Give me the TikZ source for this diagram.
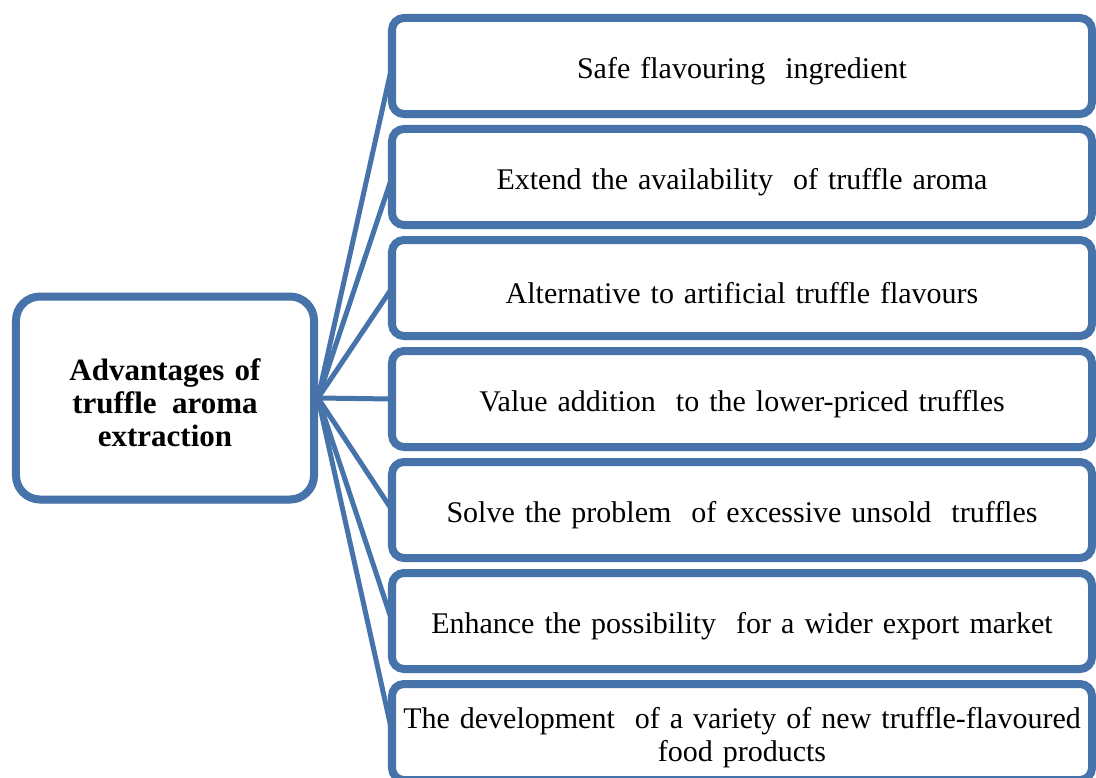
\documentclass[tikz,border=0pt]{standalone}
\usepackage{fontspec}
\setmainfont{Liberation Serif}
\usetikzlibrary{shadows}
\definecolor{boxblue}{HTML}{4673AA}
\newcommand{\dropline}{\rule{0pt}{32bp}}
\tikzset{
    boxshadow/.style={drop shadow={shadow xshift=1bp, shadow yshift=-4bp, opacity=0.25, fill=black!60}},
    topicbox/.style={draw=boxblue, line width=8bp, rounded corners=24bp, fill=white, boxshadow,
        minimum width=298bp, minimum height=203bp, text width=290bp, inner sep=2bp, align=center,
        font=\fontsize{31bp}{33bp}\selectfont\bfseries},
    benefit/.style={draw=boxblue, line width=8bp, rounded corners=12bp, fill=white, boxshadow,
        minimum width=700bp, minimum height=96bp, text width=692bp, inner sep=2bp, align=center,
        font=\fontsize{30bp}{33bp}\selectfont},
    spoke/.style={draw=boxblue, line width=5bp}
}
\begin{document}
\begin{tikzpicture}[x=1bp, y=-1bp]
        \useasboundingbox (0,0) rectangle (1096,778);
        % Central topic
        \node[topicbox] (adv) at (165,398) {\dropline Advantages of\\ truffle\, aroma\\ extraction};
        % Spokes to each advantage
        \foreach \i in {1,...,7} {
            \coordinate (tip\i) at (392,{66+111*(\i-1)});
            \draw[spoke] (adv.east) -- (tip\i);
        }
        % Advantage boxes
        \foreach \i/\label in {1/Safe flavouring\ \ ingredient,
                               2/Extend the availability\ \ of truffle aroma,
                               3/Alternative to artificial truffle flavours,
                               4/Value addition\ \ to the lower-priced truffles,
                               5/Solve the problem\ \ of excessive unsold\ \ truffles,
                               6/Enhance the possibility\ \ for a wider export market,
                               7/The development\ \ of a variety of new truffle-flavoured\\ food products} {
            \node[benefit] (adv\i) at (742,{66+111*(\i-1)}) {\dropline\label};
        }
    \end{tikzpicture}
\end{document}
